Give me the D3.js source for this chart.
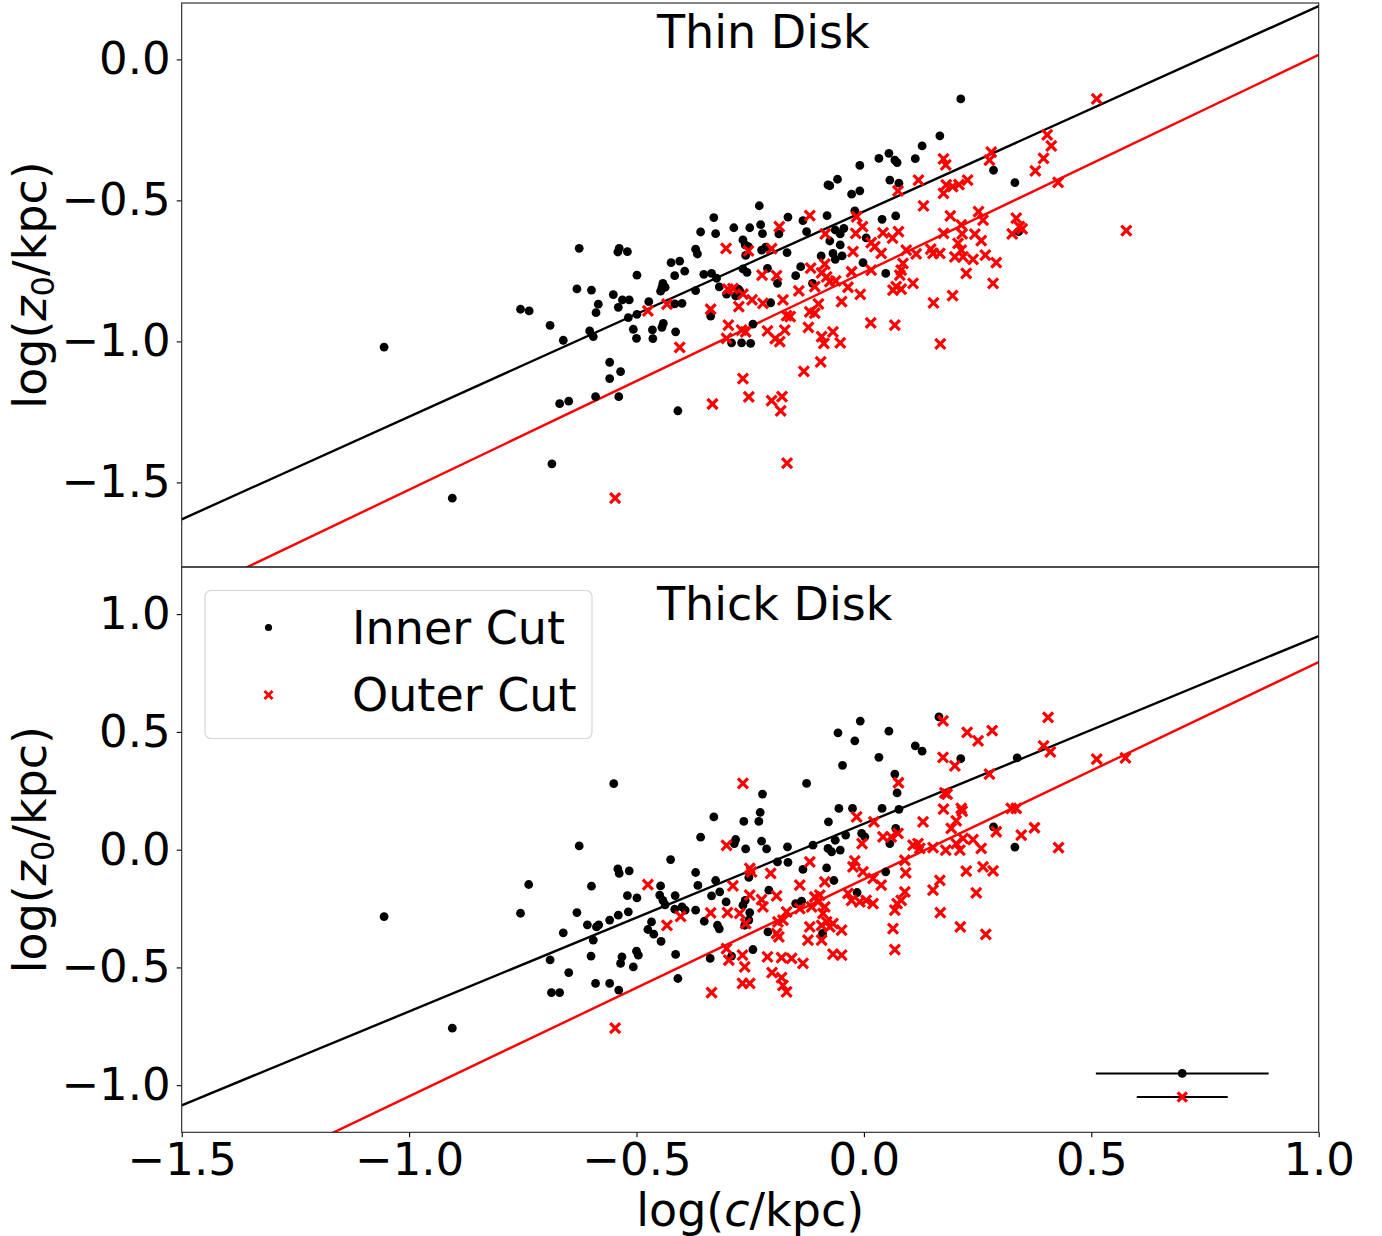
<!DOCTYPE html>
<html><head><meta charset="utf-8">
<script src="https://cdn.jsdelivr.net/npm/d3@7"></script>
<style>
html,body{margin:0;padding:0;background:#fff;}
text{font-family:"DejaVu Sans",sans-serif;}
</style></head>
<body>
<svg id="chart" width="1382" height="1236"></svg>
<script>
// ---------------- DATA ----------------
const xTicks = [-1.5, -1.0, -0.5, 0.0, 0.5, 1.0];
const thinYTicks = [-1.5, -1.0, -0.5, 0.0];
const thickYTicks = [-1.0, -0.5, 0.0, 0.5, 1.0];
const xDomain = [-1.5, 1.0];
const thinYDomain = [-1.8, 0.2];
const thickYDomain = [-1.2, 1.2];
const panelTitles = ["Thin Disk", "Thick Disk"];
const seriesNames = ["Inner Cut", "Outer Cut"];

// [log c, log z0]
const thinInner = [[-0.626,-0.670],[-0.538,-0.670],[-0.541,-0.683],[-0.520,-0.682],[-0.499,-0.765],[-0.631,-0.814],[-0.599,-0.818],[-0.551,-0.834],[-0.584,-0.868],[-0.531,-0.853],[-0.516,-0.853],[-0.540,-0.879],[-0.589,-0.898],[-0.755,-0.886],[-0.736,-0.892],[-0.690,-0.943],[-0.518,-0.916],[-0.499,-0.904],[-0.603,-0.963],[-0.595,-0.983],[-0.661,-0.996],[-0.507,-0.957],[-0.500,-0.989],[-1.055,-1.020],[-0.559,-1.074],[-0.535,-1.107],[-0.559,-1.132],[-0.590,-1.196],[-0.539,-1.196],[-0.669,-1.221],[-0.649,-1.212],[-0.686,-1.434],[-0.905,-1.556],
[-0.079,-0.445],[-0.230,-0.519],[-0.330,-0.561],[-0.167,-0.559],[-0.359,-0.612],[-0.326,-0.618],[-0.286,-0.597],[-0.251,-0.597],[-0.227,-0.586],[-0.223,-0.618],[-0.187,-0.619],[-0.134,-0.572],[-0.126,-0.611],[-0.266,-0.640],[-0.261,-0.658],[-0.254,-0.664],[-0.370,-0.673],[-0.366,-0.690],[-0.225,-0.676],[-0.216,-0.666],[-0.169,-0.685],[-0.260,-0.695],[-0.424,-0.721],[-0.405,-0.715],[-0.394,-0.751],[-0.416,-0.767],[-0.352,-0.762],[-0.335,-0.759],[-0.324,-0.776],[-0.266,-0.743],[-0.257,-0.755],[-0.212,-0.741],[-0.139,-0.735],[-0.150,-0.767],[-0.094,-0.697],[-0.318,-0.807],[-0.442,-0.794],[-0.444,-0.808],[-0.447,-0.822],[-0.437,-0.808],[-0.370,-0.820],[-0.302,-0.832],[-0.282,-0.839],[-0.276,-0.815],[-0.273,-0.821],[-0.190,-0.794],[-0.113,-0.794],[-0.473,-0.859],[-0.416,-0.867],[-0.400,-0.865],[-0.205,-0.863],[-0.337,-0.910],[-0.465,-0.959],[-0.464,-0.990],[-0.441,-0.936],[-0.444,-0.950],[-0.414,-0.966],[-0.244,-0.939],[-0.291,-1.005],[-0.269,-1.005],[-0.249,-1.007],[-0.409,-1.246],
[0.213,-0.140],[0.167,-0.271],[0.128,-0.307],[0.055,-0.333],[0.068,-0.357],[0.073,-0.366],[0.033,-0.351],[0.113,-0.352],[-0.009,-0.376],[-0.075,-0.448],[-0.058,-0.425],[0.057,-0.428],[0.077,-0.439],[-0.027,-0.478],[-0.009,-0.466],[0.285,-0.393],[0.332,-0.437],[-0.020,-0.537],[-0.081,-0.554],[0.040,-0.567],[0.070,-0.555],[-0.063,-0.605],[-0.044,-0.599],[-0.052,-0.619],[-0.075,-0.644],[-0.052,-0.658],[0.005,-0.633],[-0.068,-0.688],[-0.048,-0.697],[-0.063,-0.709],[-0.002,-0.721],[0.048,-0.759],[0.340,-0.611]];

const thinOuter = [[-0.547,-1.556],[-0.119,-0.554],[-0.186,-0.593],[-0.303,-0.670],[-0.254,-0.679],[-0.203,-0.671],[-0.085,-0.619],[-0.224,-0.765],[-0.192,-0.767],[-0.117,-0.740],[-0.093,-0.757],[-0.086,-0.726],[-0.082,-0.771],[-0.299,-0.815],[-0.288,-0.813],[-0.266,-0.832],[-0.246,-0.853],[-0.275,-0.877],[-0.222,-0.865],[-0.178,-0.853],[-0.143,-0.821],[-0.108,-0.806],[-0.475,-0.892],[-0.433,-0.868],[-0.337,-0.886],[-0.100,-0.867],[-0.170,-0.909],[-0.162,-0.912],[-0.119,-0.895],[-0.108,-0.900],[-0.298,-0.942],[-0.269,-0.960],[-0.260,-0.966],[-0.212,-0.963],[-0.174,-0.960],[-0.122,-0.950],[-0.302,-0.989],[-0.195,-0.990],[-0.185,-1.001],[-0.093,-0.983],[-0.088,-1.007],[-0.405,-1.021],[-0.095,-1.073],[-0.132,-1.106],[-0.266,-1.132],[-0.253,-1.197],[-0.333,-1.222],[-0.203,-1.210],[-0.180,-1.196],[-0.183,-1.246],[-0.169,-1.432],
[0.175,-0.353],[0.180,-0.374],[0.280,-0.329],[0.276,-0.357],[0.120,-0.428],[0.075,-0.466],[0.181,-0.445],[0.195,-0.451],[0.209,-0.444],[0.228,-0.428],[0.175,-0.475],[0.131,-0.519],[0.190,-0.555],[0.252,-0.540],[0.262,-0.570],[0.335,-0.563],[0.342,-0.593],[0.326,-0.619],[-0.016,-0.558],[-0.003,-0.593],[-0.018,-0.617],[0.042,-0.615],[0.076,-0.611],[0.063,-0.634],[0.214,-0.587],[0.216,-0.619],[0.175,-0.617],[0.244,-0.620],[0.258,-0.643],[0.016,-0.650],[0.024,-0.664],[0.093,-0.676],[0.115,-0.690],[0.147,-0.673],[0.152,-0.688],[0.167,-0.688],[0.207,-0.652],[0.214,-0.676],[0.218,-0.700],[0.200,-0.700],[0.240,-0.709],[0.267,-0.694],[0.291,-0.721],[-0.024,-0.682],[0.038,-0.688],[0.086,-0.723],[0.082,-0.747],[0.079,-0.765],[0.016,-0.747],[-0.027,-0.753],[-0.062,-0.785],[-0.075,-0.788],[0.225,-0.759],[0.284,-0.794],[0.071,-0.806],[0.064,-0.818],[0.082,-0.815],[0.108,-0.794],[-0.035,-0.808],[-0.008,-0.833],[-0.049,-0.859],[0.195,-0.838],[0.153,-0.863],[0.015,-0.934],[0.068,-0.942],[0.168,-1.009],[-0.068,-0.966],[-0.052,-1.005],
[0.512,-0.140],[0.403,-0.268],[0.412,-0.307],[0.395,-0.351],[0.377,-0.395],[0.427,-0.436],[0.577,-0.607],[0.348,-0.601]];

const thickInner = [[-0.550,0.280],[-0.626,0.016],[-0.541,-0.082],[-0.538,-0.101],[-0.516,-0.090],[-0.737,-0.148],[-0.599,-0.155],[-0.520,-0.195],[-0.499,-0.205],[-1.055,-0.284],[-0.755,-0.270],[-0.631,-0.267],[-0.518,-0.264],[-0.540,-0.278],[-0.559,-0.299],[-0.608,-0.319],[-0.588,-0.328],[-0.583,-0.319],[-0.661,-0.353],[-0.595,-0.384],[-0.690,-0.468],[-0.600,-0.452],[-0.532,-0.455],[-0.535,-0.483],[-0.500,-0.431],[-0.496,-0.448],[-0.507,-0.498],[-0.649,-0.522],[-0.590,-0.568],[-0.559,-0.568],[-0.539,-0.596],[-0.687,-0.607],[-0.669,-0.607],[-0.905,-0.758],
[-0.126,0.281],[-0.223,0.236],[-0.228,0.158],[-0.330,0.139],[-0.264,0.120],[-0.231,0.120],[-0.078,0.118],[-0.359,0.053],[-0.282,0.043],[-0.285,0.026],[-0.225,0.036],[-0.260,0.003],[-0.214,0.003],[-0.168,0.012],[-0.112,0.019],[-0.079,0.005],[-0.425,-0.042],[-0.370,-0.097],[-0.190,-0.052],[-0.167,-0.054],[-0.134,-0.084],[-0.082,-0.077],[-0.447,-0.154],[-0.365,-0.152],[-0.326,-0.131],[-0.253,-0.118],[-0.209,-0.172],[-0.317,-0.179],[-0.335,-0.196],[-0.415,-0.195],[-0.449,-0.193],[-0.442,-0.215],[-0.437,-0.234],[-0.303,-0.222],[-0.261,-0.215],[-0.266,-0.236],[-0.150,-0.229],[-0.137,-0.219],[-0.416,-0.253],[-0.400,-0.243],[-0.393,-0.257],[-0.370,-0.257],[-0.251,-0.267],[-0.253,-0.299],[-0.262,-0.321],[-0.351,-0.304],[-0.322,-0.321],[-0.318,-0.336],[-0.467,-0.307],[-0.475,-0.339],[-0.462,-0.359],[-0.446,-0.389],[-0.211,-0.349],[-0.414,-0.445],[-0.338,-0.462],[-0.291,-0.452],[-0.244,-0.424],[-0.409,-0.547],[-0.091,-0.356],
[-0.008,0.546],[0.165,0.564],[-0.057,0.496],[-0.020,0.462],[0.055,0.503],[0.113,0.441],[0.128,0.418],[0.033,0.392],[-0.047,0.358],[0.213,0.386],[0.337,0.390],[0.068,0.321],[0.073,0.241],[-0.055,0.175],[-0.025,0.175],[0.040,0.175],[0.077,0.171],[0.070,0.090],[-0.040,0.062],[-0.063,0.040],[-0.005,0.069],[0.002,0.054],[0.057,0.026],[-0.071,-0.009],[-0.052,-0.002],[0.285,0.097],[0.332,0.011],[0.048,-0.094],[-0.066,-0.131],[-0.015,-0.182]];

const thickOuter = [[-0.547,-0.758],[-0.266,0.281],[-0.302,0.018],[-0.119,-0.052],[-0.251,-0.080],[-0.247,-0.094],[-0.205,-0.101],[-0.475,-0.148],[-0.288,-0.154],[-0.141,-0.151],[-0.086,-0.137],[-0.251,-0.193],[-0.192,-0.196],[-0.225,-0.212],[-0.222,-0.243],[-0.337,-0.268],[-0.300,-0.267],[-0.273,-0.271],[-0.403,-0.283],[-0.433,-0.321],[-0.260,-0.314],[-0.170,-0.264],[-0.178,-0.299],[-0.189,-0.307],[-0.141,-0.250],[-0.108,-0.201],[-0.097,-0.193],[-0.101,-0.222],[-0.115,-0.243],[-0.090,-0.271],[-0.082,-0.307],[-0.093,-0.321],[-0.075,-0.328],[-0.119,-0.328],[-0.123,-0.384],[-0.192,-0.356],[-0.187,-0.370],[-0.093,-0.384],[-0.302,-0.420],[-0.297,-0.469],[-0.267,-0.448],[-0.262,-0.498],[-0.212,-0.455],[-0.181,-0.458],[-0.159,-0.462],[-0.134,-0.483],[-0.202,-0.522],[-0.181,-0.543],[-0.267,-0.568],[-0.251,-0.568],[-0.178,-0.576],[-0.170,-0.604],[-0.335,-0.607],
[0.174,0.547],[0.227,0.498],[0.251,0.462],[0.282,0.505],[0.174,0.392],[0.200,0.356],[0.076,0.284],[0.276,0.321],[0.178,0.241],[0.183,0.236],[-0.016,0.139],[0.022,0.118],[0.175,0.172],[0.214,0.175],[0.216,0.164],[0.130,0.118],[0.203,0.122],[0.192,0.090],[0.324,0.175],[0.335,0.175],[0.291,0.076],[0.346,0.062],[0.042,0.054],[0.060,0.054],[0.075,0.069],[-0.004,0.026],[0.108,0.019],[0.119,0.026],[0.123,0.005],[0.152,0.009],[0.180,-0.002],[0.203,0.026],[0.211,-0.002],[0.218,0.048],[0.240,0.043],[0.258,0.005],[0.090,-0.045],[-0.020,-0.048],[-0.024,-0.073],[-0.002,-0.094],[0.092,-0.099],[0.225,-0.091],[0.262,-0.073],[0.284,-0.090],[0.020,-0.122],[0.038,-0.151],[0.167,-0.130],[0.152,-0.172],[0.247,-0.184],[-0.035,-0.186],[-0.027,-0.215],[-0.009,-0.222],[0.005,-0.215],[0.020,-0.229],[0.090,-0.179],[0.082,-0.215],[0.073,-0.229],[0.068,-0.257],[-0.086,-0.243],[-0.068,-0.314],[-0.049,-0.342],[0.168,-0.267],[0.064,-0.335],[0.212,-0.328],[0.268,-0.360],[0.068,-0.424],[-0.068,-0.444],[-0.049,-0.448],
[0.405,0.562],[0.395,0.441],[0.410,0.415],[0.512,0.384],[0.575,0.390],[0.375,0.093],[0.428,0.009]];

// linear fits [slope, intercept]
const thinInnerFit = [0.728, -0.539];
const thinOuterFit = [0.771, -0.755];
const thickInnerFit = [0.797, 0.110];
const thickOuterFit = [0.922, -0.1255];

// typical error bars (thick panel): [x, y, xerr]
const errInner = [0.70, -0.95, 0.19];
const errOuter = [0.70, -1.05, 0.10];

// ---------------- LAYOUT ----------------
const left = 181.7, right = 1318.7;
const panels = [
  {top: 3, bottom: 567, yDomain: thinYDomain, yTicks: thinYTicks, inner: thinInner, outer: thinOuter,
   innerFit: thinInnerFit, outerFit: thinOuterFit, title: panelTitles[0], titleY: 48, showX: false},
  {top: 567, bottom: 1132.3, yDomain: thickYDomain, yTicks: thickYTicks, inner: thickInner, outer: thickOuter,
   innerFit: thickInnerFit, outerFit: thickOuterFit, title: panelTitles[1], titleY: 620, showX: true}
];
const FS = 45;     // tick labels
const FL = 46;     // titles, axis labels, legend
const svg = d3.select("#chart");
const x = d3.scaleLinear().domain(xDomain).range([left, right]);
const fmt = d3.format(".1f");
const crossPath = s => `M${-s},${-s}L${s},${s}M${-s},${s}L${s},${-s}`;

panels.forEach((p, i) => {
  const y = d3.scaleLinear().domain(p.yDomain).range([p.bottom, p.top]);
  const g = svg.append("g");
  const clipId = "clip" + i;
  svg.append("clipPath").attr("id", clipId).append("rect")
    .attr("x", left).attr("y", p.top).attr("width", right - left).attr("height", p.bottom - p.top);
  const plot = g.append("g").attr("clip-path", `url(#${clipId})`);

  // fit lines
  [[p.innerFit, "#000"], [p.outerFit, "#ff0000"]].forEach(([f, c]) => {
    const line = d3.line().x(d => x(d)).y(d => y(f[0] * d + f[1]));
    plot.append("path").datum(xDomain).attr("d", line)
      .attr("fill", "none").attr("stroke", c).attr("stroke-width", 2.4);
  });

  // inner cut points
  plot.append("g").selectAll("circle").data(p.inner).join("circle")
    .attr("cx", d => x(d[0])).attr("cy", d => y(d[1])).attr("r", 4.4).attr("fill", "#000");
  // outer cut points
  plot.append("g").selectAll("path").data(p.outer).join("path")
    .attr("transform", d => `translate(${x(d[0])},${y(d[1])})`)
    .attr("d", crossPath(5)).attr("stroke", "#ff0000").attr("stroke-width", 3.2).attr("fill", "none");

  // y axis
  const yAxis = d3.axisLeft(y).tickValues(p.yTicks).tickFormat(fmt).tickSize(5).tickPadding(6);
  const ya = g.append("g").attr("transform", `translate(${left},0)`).call(yAxis);
  ya.select(".domain").remove();
  ya.selectAll("text").attr("font-size", FS).attr("font-family", "DejaVu Sans").attr("fill", "#000");
  ya.selectAll("line").attr("stroke", "#000").attr("stroke-width", 1.1);

  if (p.showX) {
    const xAxis = d3.axisBottom(x).tickValues(xTicks).tickFormat(fmt).tickSize(5).tickPadding(6);
    const xa = g.append("g").attr("transform", `translate(0,${p.bottom})`).call(xAxis);
    xa.select(".domain").remove();
    xa.selectAll("text").attr("font-size", FS).attr("font-family", "DejaVu Sans").attr("fill", "#000");
    xa.selectAll("line").attr("stroke", "#000").attr("stroke-width", 1.1);
  }

  // frame
  g.append("rect").attr("x", left).attr("y", p.top).attr("width", right - left).attr("height", p.bottom - p.top)
    .attr("fill", "none").attr("stroke", "#222").attr("stroke-width", 1.1);

  // title
  g.append("text").attr("x", x(-0.455)).attr("y", p.titleY).attr("font-size", FL).text(p.title);

  // y label
  const yl = g.append("text")
    .attr("transform", `translate(46,${(p.top + p.bottom) / 2}) rotate(-90)`)
    .attr("text-anchor", "middle").attr("font-size", FL);
  yl.append("tspan").text("log(");
  yl.append("tspan").attr("font-style", "italic").text("z");
  yl.append("tspan").attr("font-size", FL * 0.7).attr("dy", 8).text("0");
  yl.append("tspan").attr("dy", -8).text("/kpc)");

  if (i === 1) {
    // error bars
    [[errInner, "dot"], [errOuter, "cross"]].forEach(([e, kind]) => {
      g.append("line").attr("x1", x(e[0] - e[2])).attr("x2", x(e[0] + e[2]))
        .attr("y1", y(e[1])).attr("y2", y(e[1])).attr("stroke", "#000").attr("stroke-width", 2);
      if (kind === "dot") {
        g.append("circle").attr("cx", x(e[0])).attr("cy", y(e[1])).attr("r", 4.4).attr("fill", "#000");
      } else {
        g.append("path").attr("transform", `translate(${x(e[0])},${y(e[1])})`)
          .attr("d", crossPath(4.6)).attr("stroke", "#ff0000").attr("stroke-width", 3.2);
      }
    });

    // legend
    const lg = g.append("g");
    lg.append("rect").attr("x", 205).attr("y", 590.5).attr("width", 387).attr("height", 148).attr("rx", 6)
      .attr("fill", "#fff").attr("fill-opacity", 0.8).attr("stroke", "#d6d6d6").attr("stroke-width", 1.2);
    lg.append("circle").attr("cx", 268.5).attr("cy", 627.5).attr("r", 3.6).attr("fill", "#000");
    lg.append("path").attr("transform", "translate(268.5,695)").attr("d", crossPath(4))
      .attr("stroke", "#ff0000").attr("stroke-width", 2.9);
    lg.append("text").attr("x", 352).attr("y", 643.5).attr("font-size", FL).text(seriesNames[0]);
    lg.append("text").attr("x", 352).attr("y", 711).attr("font-size", FL).text(seriesNames[1]);
  }
});

// x label
const xl = svg.append("text").attr("x", (left + right) / 2).attr("y", 1226)
  .attr("text-anchor", "middle").attr("font-size", FL);
xl.append("tspan").text("log(");
xl.append("tspan").attr("font-style", "italic").text("c");
xl.append("tspan").text("/kpc)");
</script>
</body></html>
